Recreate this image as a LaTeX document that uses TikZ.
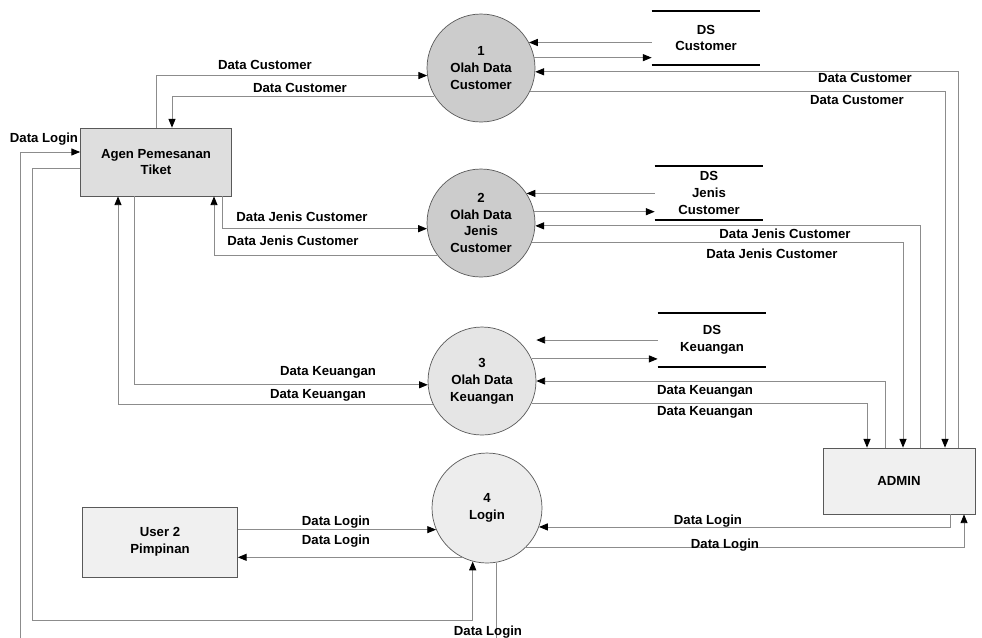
\documentclass[tikz,border=0pt]{standalone}
\usepackage{fontspec}
\setmainfont{Liberation Sans}
\usetikzlibrary{arrows.meta,calc}
\newcommand{\dfdfont}{\fontsize{7.5}{9.6}\selectfont\bfseries}
\tikzset{
	proc/.style={circle,draw=black!65,fill=#1,minimum size=2.16cm,inner sep=0pt,align=center,font=\dfdfont},
	ent/.style={draw=black!65,fill=#1,align=center,font=\dfdfont},
	store/.style={minimum width=2.16cm,minimum height=1.06cm,inner sep=0pt,align=center,font=\dfdfont},
	flow/.style={draw=black!45,line width=0.5pt,-{Triangle[length=5pt,width=4pt,color=black]}},
	lbl/.style={font=\dfdfont,inner sep=1pt}
}

\begin{document}
\begin{tikzpicture}[x=0.02cm,y=-0.02cm]
	\useasboundingbox (0,0) rectangle (982,637);

	\node [ent=black!13,minimum width=3.02cm,minimum height=1.36cm] (Agen) at (156,162) {Agen Pemesanan\\Tiket};
	\node [ent=black!6,minimum width=3.1cm,minimum height=1.4cm] (User) at (160,542) {User 2\\Pimpinan};
	\node [ent=black!6,minimum width=3.04cm,minimum height=1.32cm] (Admin) at (899,481) {ADMIN};

	\node [proc=black!20] (P1) at (481,68) {1\\Olah Data\\Customer};
	\node [proc=black!20] (P2) at (481,223) {2\\Olah Data\\Jenis\\Customer};
	\node [proc=black!10] (P3) at (482,381) {3\\Olah Data\\Keuangan};
	\node [proc=black!7,minimum size=2.2cm] (P4) at (487,508) {4\\Login};

	\node [store] (DSC) at (706,38) {DS\\Customer};
	\node [store] (DSJ) at (709,193) {DS\\Jenis\\Customer};
	\node [store] (DSK) at (712,340) {DS\\Keuangan};
	\foreach \s in {DSC,DSJ,DSK}
		\draw [line width=1pt] (\s.north west) -- (\s.north east) (\s.south west) -- (\s.south east);

	\coordinate (bl1) at (32,620);
	\coordinate (bl2) at (20,644);

	% agen
	\draw [flow] (Agen.north) |- (P1.188.5);
	\draw [flow] (P1.211.2) -| ($(Agen.north)+(16,0)$);
	\draw [flow] ($(Agen.south)+(66,0)$) |- (P2.186.4);
	\draw [flow] (P2.216.3) -| ($(Agen.south)+(58,0)$);
	\draw [flow] ($(Agen.south)+(-22,0)$) |- (P3.184.2);
	\draw [flow] (P3.206.4) -| ($(Agen.south)+(-38,0)$);
	\draw [flow] ($(Agen.west)+(0,6)$) -| (bl1) -| (P4.255.3);
	\draw [flow] (P4.280.5) |- (bl2) |- ($(Agen.west)+(0,-10)$);

	% data stores
	\draw [flow] (DSC.west |- P1.28.8) -- (P1.28.8);
	\draw [flow] (P1.11.7) -- (DSC.west |- P1.11.7);
	\draw [flow] (DSJ.west |- P2.33.7) -- (P2.33.7);
	\draw [flow] (P2.12.8) -- (DSJ.west |- P2.12.8);
	\draw [flow] (DSK.west) -- (P3.east |- DSK.west);
	\draw [flow] (P3.24) -- (DSK.west |- P3.24);

	% admin
	\draw [flow] ($(Admin.north)+(59,0)$) |- (P1.-4.2);
	\draw [flow] (P1.-26.4) -| ($(Admin.north)+(46,0)$);
	\draw [flow] ($(Admin.north)+(21,0)$) |- (P2.-3.2);
	\draw [flow] (P2.-21.7) -| ($(Admin.north)+(4,0)$);
	\draw [flow] ($(Admin.north)+(-14,0)$) |- (P3.east);
	\draw [flow] (P3.-24) -| ($(Admin.north)+(-32,0)$);
	\draw [flow] ($(Admin.south)+(51,0)$) |- (P4.-20.2);
	\draw [flow] (P4.-46.7) -| ($(Admin.south)+(65,0)$);

	% user
	\draw [flow] (User.east |- P4.203.6) -- (P4.203.6);
	\draw [flow] (P4.243) -- (User.east |- P4.243);

	% labels
	\node [lbl] (l1) at (265,65) {Data Customer};
	\node [lbl] (l2) at (300,88) {Data Customer};
	\node [lbl] (l3) at (865,78) {Data Customer};
	\node [lbl] (l4) at (857,100) {Data Customer};
	\node [lbl] (l5) at (302,217) {Data Jenis Customer};
	\node [lbl] (l6) at (293,241) {Data Jenis Customer};
	\node [lbl] (l7) at (785,234) {Data Jenis Customer};
	\node [lbl] (l8) at (772,254) {Data Jenis Customer};
	\node [lbl] (l9) at (328,372) {Data Keuangan};
	\node [lbl] (l10) at (318,395) {Data Keuangan};
	\node [lbl] (l11) at (705,391) {Data Keuangan};
	\node [lbl] (l12) at (705,412) {Data Keuangan};
	\node [lbl] (l13) at (44,139) {Data Login};
	\node [lbl] (l14) at (336,522) {Data Login};
	\node [lbl] (l15) at (336,541) {Data Login};
	\node [lbl] (l16) at (708,521) {Data Login};
	\node [lbl] (l17) at (725,545) {Data Login};
	\node [lbl] (l18) at (488,632) {Data Login};
\end{tikzpicture}
\end{document}
